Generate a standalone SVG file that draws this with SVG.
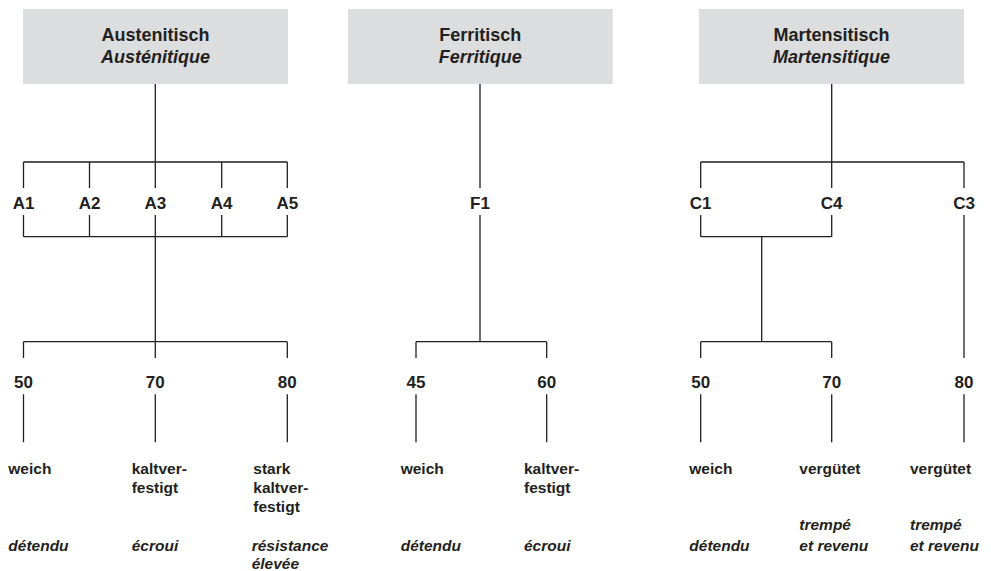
<svg xmlns="http://www.w3.org/2000/svg" width="991" height="571" viewBox="0 0 991 571">
<style>
text{font-family:"Liberation Sans",Arial,sans-serif;fill:#231f20;font-weight:bold}
.t{font-size:18px;text-anchor:middle}
.i{font-style:italic}
.l{font-size:17px;text-anchor:middle}
.s{font-size:15.5px}
.box{fill:#dcdddf}
#connectors path{fill:none;stroke:#231f20;stroke-width:1.3}
</style>
<rect width="991" height="571" fill="#fff"/>
<g id="connectors">
<!-- Austenitic -->
<path d="M155.3 84V162M23.5 162H287.3M23.5 162V188M89.5 162V188M155.3 162V188M221.7 162V188M287.3 162V188"/>
<path d="M23.5 215V236.7M89.5 215V236.7M155.3 215V236.7M221.7 215V236.7M287.3 215V236.7M23.5 236.7H287.3"/>
<path d="M155.3 236.7V341.7M23.5 341.7H287.3M23.5 341.7V358M155.3 341.7V358M287.3 341.7V358"/>
<path d="M23.5 394.3V442.3M155.3 394.3V442.3M287.3 394.3V442.3"/>
<!-- Ferritic -->
<path d="M480 84V188M480 215V341.7M416 341.7H546.7M416 341.7V358M546.7 341.7V358M416 394.3V442.3M546.7 394.3V442.3"/>
<!-- Martensitic -->
<path d="M831.7 84V162M700.7 162H964M700.7 162V188M831.7 162V188M964 162V188"/>
<path d="M700.7 215V236.7M831.7 215V236.7M700.7 236.7H831.7M761.7 236.7V341.7M700.7 341.7H831.7M700.7 341.7V358M831.7 341.7V358M964 215V358"/>
<path d="M700.7 394.3V442.3M831.7 394.3V442.3M964 394.3V442.3"/>
</g>
<g id="austenitisch">
<rect class="box" x="23" y="9" width="265" height="75"/>
<text class="t" x="155.5" y="41">Austenitisch</text>
<text class="t i" x="155.5" y="63">Austénitique</text>
</g>
<g id="ferritisch">
<rect class="box" x="348" y="9" width="264.7" height="75"/>
<text class="t" x="480.3" y="41">Ferritisch</text>
<text class="t i" x="480.3" y="63">Ferritique</text>
</g>
<g id="martensitisch">
<rect class="box" x="699" y="9" width="265" height="75"/>
<text class="t" x="831.5" y="41">Martensitisch</text>
<text class="t i" x="831.5" y="63">Martensitique</text>
</g>
<g id="A1"><text class="l" x="23.5" y="209">A1</text></g>
<g id="A2"><text class="l" x="89.5" y="209">A2</text></g>
<g id="A3"><text class="l" x="155.3" y="209">A3</text></g>
<g id="A4"><text class="l" x="221.7" y="209">A4</text></g>
<g id="A5"><text class="l" x="287.3" y="209">A5</text></g>
<g id="F1"><text class="l" x="480" y="209">F1</text></g>
<g id="C1"><text class="l" x="700.7" y="209">C1</text></g>
<g id="C4"><text class="l" x="831.7" y="209">C4</text></g>
<g id="C3"><text class="l" x="964" y="209">C3</text></g>
<g id="a50">
<text class="l" x="23.5" y="387.7">50</text>
<text class="s" x="8.3" y="474">weich</text>
<text class="s i" x="8.3" y="551">détendu</text>
</g>
<g id="a70">
<text class="l" x="155.3" y="387.7">70</text>
<text class="s" x="131.7" y="474">kaltver-</text>
<text class="s" x="131.7" y="493">festigt</text>
<text class="s i" x="131.7" y="551">écroui</text>
</g>
<g id="a80">
<text class="l" x="287.3" y="387.7">80</text>
<text class="s" x="253.3" y="474">stark</text>
<text class="s" x="253.3" y="493">kaltver-</text>
<text class="s" x="253.3" y="512">festigt</text>
<text class="s i" x="251.7" y="551">résistance</text>
<text class="s i" x="251.7" y="569">élevée</text>
</g>
<g id="f45">
<text class="l" x="416" y="387.7">45</text>
<text class="s" x="400.7" y="474">weich</text>
<text class="s i" x="400.7" y="551">détendu</text>
</g>
<g id="f60">
<text class="l" x="546.7" y="387.7">60</text>
<text class="s" x="524" y="474">kaltver-</text>
<text class="s" x="524" y="493">festigt</text>
<text class="s i" x="524" y="551">écroui</text>
</g>
<g id="c50">
<text class="l" x="700.7" y="387.7">50</text>
<text class="s" x="689.3" y="474">weich</text>
<text class="s i" x="689.3" y="551">détendu</text>
</g>
<g id="c70">
<text class="l" x="831.7" y="387.7">70</text>
<text class="s" x="799.3" y="474">vergütet</text>
<text class="s i" x="799.3" y="530">trempé</text>
<text class="s i" x="799.3" y="551">et revenu</text>
</g>
<g id="c80">
<text class="l" x="964" y="387.7">80</text>
<text class="s" x="910" y="474">vergütet</text>
<text class="s i" x="910" y="530">trempé</text>
<text class="s i" x="910" y="551">et revenu</text>
</g>
</svg>
